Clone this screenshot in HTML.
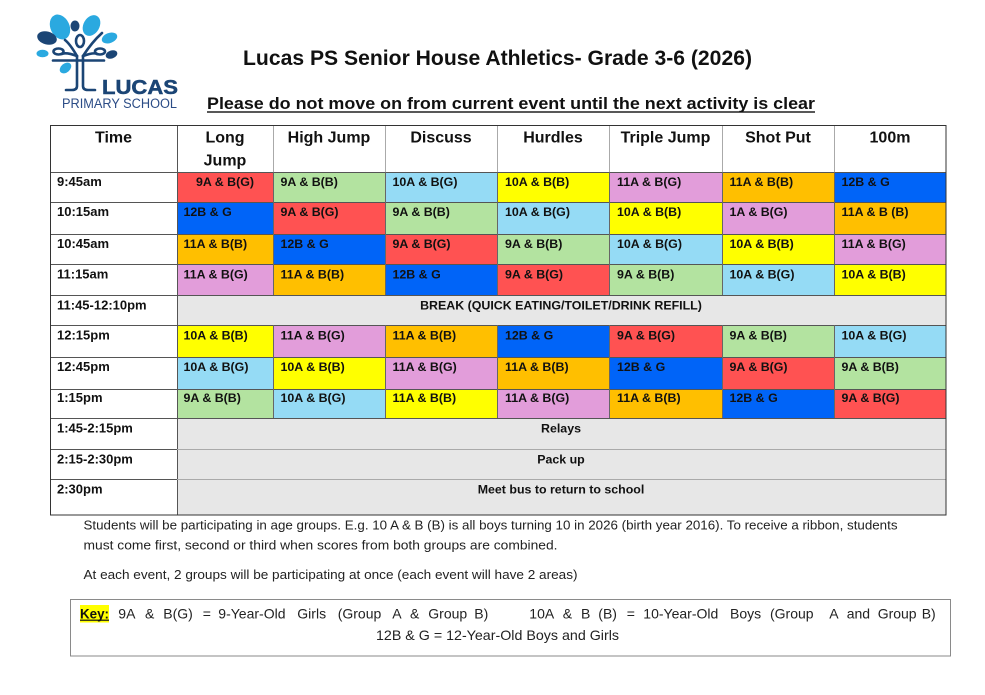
<!DOCTYPE html>
<html>
<head>
<meta charset="utf-8">
<style>
html,body{margin:0;padding:0;background:#fff;}
body{width:985px;height:695px;overflow:hidden;}
svg{display:block;font-family:"Liberation Sans",Arial,sans-serif;}
.c{font-size:12.4px;font-weight:bold;fill:#111;}
.t{font-size:13px;font-weight:bold;fill:#111;}
.h{font-size:16px;font-weight:bold;fill:#111;}
.p{font-size:13px;fill:#222;}
.k{font-size:14px;fill:#222;}
</style>
</head>
<body>
<svg width="985" height="695" viewBox="0 0 985 695" xmlns="http://www.w3.org/2000/svg">
<rect width="985" height="695" fill="#fff"/>

<!-- Logo -->
<g>
  <ellipse cx="60" cy="27" rx="9.5" ry="13" transform="rotate(-25 60 27)" fill="#2AA9E0"/>
  <ellipse cx="75" cy="26" rx="4.5" ry="5.5" fill="#1B4575"/>
  <ellipse cx="91.5" cy="25.5" rx="8" ry="11" transform="rotate(30 91.5 25.5)" fill="#2AA9E0"/>
  <ellipse cx="47" cy="38" rx="10" ry="6.5" transform="rotate(15 47 38)" fill="#1B4575"/>
  <ellipse cx="109.5" cy="38" rx="8" ry="5" transform="rotate(-20 109.5 38)" fill="#2AA9E0"/>
  <ellipse cx="42.5" cy="53.5" rx="6" ry="3.8" fill="#2AA9E0"/>
  <ellipse cx="111.5" cy="54.5" rx="6" ry="4" transform="rotate(-20 111.5 54.5)" fill="#1B4575"/>
  <ellipse cx="65.5" cy="68" rx="6.5" ry="4.5" transform="rotate(-40 65.5 68)" fill="#2AA9E0"/>
  <g fill="none" stroke="#1B4575" stroke-width="2.6" stroke-linecap="round">
    <path d="M77 56 L77 86 Q77 90 72 90 L66 90"/>
    <path d="M83 56 L83 86 Q83 90 88 90 L95 90"/>
    <path d="M53 60.5 L104 60.5"/>
    <ellipse cx="58.5" cy="51.5" rx="5" ry="3"/>
    <ellipse cx="80" cy="41" rx="4" ry="6"/>
    <ellipse cx="100" cy="51.5" rx="5" ry="3"/>
    <path d="M77 56 Q70 44 65 40"/>
    <path d="M83 56 Q92 42 102 33"/>
    <path d="M77 56 Q66 52 62 54"/>
    <path d="M83 56 Q94 52 97 54"/>
  </g>
  <text x="102" y="94" font-size="20" font-weight="bold" fill="#1B4575" stroke="#1B4575" stroke-width="0.5" textLength="76" lengthAdjust="spacingAndGlyphs">LUCAS</text>
  <text x="62" y="108" font-size="13.5" fill="#2B4C86" textLength="115" lengthAdjust="spacingAndGlyphs">PRIMARY SCHOOL</text>
</g>

<!-- Titles -->
<text x="243" y="65" font-size="21" font-weight="bold" fill="#111" textLength="509" lengthAdjust="spacingAndGlyphs">Lucas PS Senior House Athletics- Grade 3-6 (2026)</text>
<text x="207" y="109" font-size="16.5" font-weight="bold" fill="#111" textLength="608" lengthAdjust="spacingAndGlyphs">Please do not move on from current event until the next activity is clear</text>
<rect x="207" y="111.3" width="608" height="1.4" fill="#111"/>

<!-- Table backgrounds -->
<g>
  <rect x="177" y="172" width="96" height="30" fill="#FF5252"/>
  <rect x="273" y="172" width="112" height="30" fill="#B3E3A0"/>
  <rect x="385" y="172" width="112" height="30" fill="#95DBF5"/>
  <rect x="497" y="172" width="112" height="30" fill="#FFFF00"/>
  <rect x="609" y="172" width="113" height="30" fill="#E29DDA"/>
  <rect x="722" y="172" width="112" height="30" fill="#FFBF00"/>
  <rect x="834" y="172" width="112" height="30" fill="#0064F8"/>
  <rect x="177" y="202" width="96" height="32" fill="#0064F8"/>
  <rect x="273" y="202" width="112" height="32" fill="#FF5252"/>
  <rect x="385" y="202" width="112" height="32" fill="#B3E3A0"/>
  <rect x="497" y="202" width="112" height="32" fill="#95DBF5"/>
  <rect x="609" y="202" width="113" height="32" fill="#FFFF00"/>
  <rect x="722" y="202" width="112" height="32" fill="#E29DDA"/>
  <rect x="834" y="202" width="112" height="32" fill="#FFBF00"/>
  <rect x="177" y="234" width="96" height="30" fill="#FFBF00"/>
  <rect x="273" y="234" width="112" height="30" fill="#0064F8"/>
  <rect x="385" y="234" width="112" height="30" fill="#FF5252"/>
  <rect x="497" y="234" width="112" height="30" fill="#B3E3A0"/>
  <rect x="609" y="234" width="113" height="30" fill="#95DBF5"/>
  <rect x="722" y="234" width="112" height="30" fill="#FFFF00"/>
  <rect x="834" y="234" width="112" height="30" fill="#E29DDA"/>
  <rect x="177" y="264" width="96" height="31" fill="#E29DDA"/>
  <rect x="273" y="264" width="112" height="31" fill="#FFBF00"/>
  <rect x="385" y="264" width="112" height="31" fill="#0064F8"/>
  <rect x="497" y="264" width="112" height="31" fill="#FF5252"/>
  <rect x="609" y="264" width="113" height="31" fill="#B3E3A0"/>
  <rect x="722" y="264" width="112" height="31" fill="#95DBF5"/>
  <rect x="834" y="264" width="112" height="31" fill="#FFFF00"/>
  <rect x="177" y="295" width="769" height="30" fill="#E7E7E7"/>
  <rect x="177" y="325" width="96" height="32" fill="#FFFF00"/>
  <rect x="273" y="325" width="112" height="32" fill="#E29DDA"/>
  <rect x="385" y="325" width="112" height="32" fill="#FFBF00"/>
  <rect x="497" y="325" width="112" height="32" fill="#0064F8"/>
  <rect x="609" y="325" width="113" height="32" fill="#FF5252"/>
  <rect x="722" y="325" width="112" height="32" fill="#B3E3A0"/>
  <rect x="834" y="325" width="112" height="32" fill="#95DBF5"/>
  <rect x="177" y="357" width="96" height="32" fill="#95DBF5"/>
  <rect x="273" y="357" width="112" height="32" fill="#FFFF00"/>
  <rect x="385" y="357" width="112" height="32" fill="#E29DDA"/>
  <rect x="497" y="357" width="112" height="32" fill="#FFBF00"/>
  <rect x="609" y="357" width="113" height="32" fill="#0064F8"/>
  <rect x="722" y="357" width="112" height="32" fill="#FF5252"/>
  <rect x="834" y="357" width="112" height="32" fill="#B3E3A0"/>
  <rect x="177" y="389" width="96" height="29" fill="#B3E3A0"/>
  <rect x="273" y="389" width="112" height="29" fill="#95DBF5"/>
  <rect x="385" y="389" width="112" height="29" fill="#FFFF00"/>
  <rect x="497" y="389" width="112" height="29" fill="#E29DDA"/>
  <rect x="609" y="389" width="113" height="29" fill="#FFBF00"/>
  <rect x="722" y="389" width="112" height="29" fill="#0064F8"/>
  <rect x="834" y="389" width="112" height="29" fill="#FF5252"/>
  <rect x="177" y="418" width="769" height="97" fill="#E7E7E7"/>
</g>

<!-- Grid lines -->
<g stroke="#555" stroke-width="1" shape-rendering="crispEdges">
  <line x1="50" y1="172.5" x2="946" y2="172.5"/>
  <line x1="50" y1="202.5" x2="946" y2="202.5"/>
  <line x1="50" y1="234.5" x2="946" y2="234.5"/>
  <line x1="50" y1="264.5" x2="946" y2="264.5"/>
  <line x1="50" y1="295.5" x2="946" y2="295.5"/>
  <line x1="50" y1="325.5" x2="946" y2="325.5"/>
  <line x1="50" y1="357.5" x2="946" y2="357.5"/>
  <line x1="50" y1="389.5" x2="946" y2="389.5"/>
  <line x1="50" y1="418.5" x2="946" y2="418.5"/>
  <line x1="50" y1="449.5" x2="177" y2="449.5"/>
  <line x1="50" y1="479.5" x2="177" y2="479.5"/>
  <line x1="177.5" y1="125" x2="177.5" y2="515"/>
</g>
<g stroke="#aaa" stroke-width="1" shape-rendering="crispEdges">
  <line x1="177" y1="449.5" x2="946" y2="449.5"/>
  <line x1="177" y1="479.5" x2="946" y2="479.5"/>
  <line x1="273.5" y1="125" x2="273.5" y2="172"/>
  <line x1="385.5" y1="125" x2="385.5" y2="172"/>
  <line x1="497.5" y1="125" x2="497.5" y2="172"/>
  <line x1="609.5" y1="125" x2="609.5" y2="172"/>
  <line x1="722.5" y1="125" x2="722.5" y2="172"/>
  <line x1="834.5" y1="125" x2="834.5" y2="172"/>
</g>
<g stroke="#666" stroke-width="1" shape-rendering="crispEdges">
  <line x1="273.5" y1="172" x2="273.5" y2="295"/>
  <line x1="385.5" y1="172" x2="385.5" y2="295"/>
  <line x1="497.5" y1="172" x2="497.5" y2="295"/>
  <line x1="609.5" y1="172" x2="609.5" y2="295"/>
  <line x1="722.5" y1="172" x2="722.5" y2="295"/>
  <line x1="834.5" y1="172" x2="834.5" y2="295"/>
  <line x1="273.5" y1="325" x2="273.5" y2="418"/>
  <line x1="385.5" y1="325" x2="385.5" y2="418"/>
  <line x1="497.5" y1="325" x2="497.5" y2="418"/>
  <line x1="609.5" y1="325" x2="609.5" y2="418"/>
  <line x1="722.5" y1="325" x2="722.5" y2="418"/>
  <line x1="834.5" y1="325" x2="834.5" y2="418"/>
</g>
<rect x="50.5" y="125.5" width="895.5" height="389.5" fill="none" stroke="#333" stroke-width="1" shape-rendering="crispEdges"/>

<!-- Header text -->
<g text-anchor="middle">
  <text class="h" x="113.5" y="142.5">Time</text>
  <text class="h" x="225" y="142.5">Long</text>
  <text class="h" x="225" y="165.5">Jump</text>
  <text class="h" x="329" y="142.5">High Jump</text>
  <text class="h" x="441" y="142.5">Discuss</text>
  <text class="h" x="553" y="142.5">Hurdles</text>
  <text class="h" x="665.5" y="142.5">Triple Jump</text>
  <text class="h" x="778" y="142.5">Shot Put</text>
  <text class="h" x="890" y="142.5">100m</text>
</g>

<!-- Time column -->
<g>
  <text class="t" x="57" y="186">9:45am</text>
  <text class="t" x="57" y="216">10:15am</text>
  <text class="t" x="57" y="248">10:45am</text>
  <text class="t" x="57" y="278.5">11:15am</text>
  <text class="t" x="57" y="309.5">11:45-12:10pm</text>
  <text class="t" x="57" y="339.5">12:15pm</text>
  <text class="t" x="57" y="371">12:45pm</text>
  <text class="t" x="57" y="402">1:15pm</text>
  <text class="t" x="57" y="432.5">1:45-2:15pm</text>
  <text class="t" x="57" y="463.5">2:15-2:30pm</text>
  <text class="t" x="57" y="493.5">2:30pm</text>
</g>

<!-- Cells -->
<g>
  <text class="c" x="225" y="186" text-anchor="middle">9A &amp; B(G)</text>
  <text class="c" x="280.5" y="186">9A &amp; B(B)</text>
  <text class="c" x="392.5" y="186">10A &amp; B(G)</text>
  <text class="c" x="505" y="186">10A &amp; B(B)</text>
  <text class="c" x="617" y="186">11A &amp; B(G)</text>
  <text class="c" x="729.5" y="186">11A &amp; B(B)</text>
  <text class="c" x="841.5" y="186">12B &amp; G</text>
  <text class="c" x="183.5" y="216">12B &amp; G</text>
  <text class="c" x="280.5" y="216">9A &amp; B(G)</text>
  <text class="c" x="392.5" y="216">9A &amp; B(B)</text>
  <text class="c" x="505" y="216">10A &amp; B(G)</text>
  <text class="c" x="617" y="216">10A &amp; B(B)</text>
  <text class="c" x="729.5" y="216">1A &amp; B(G)</text>
  <text class="c" x="841.5" y="216">11A &amp; B (B)</text>
  <text class="c" x="183.5" y="248">11A &amp; B(B)</text>
  <text class="c" x="280.5" y="248">12B &amp; G</text>
  <text class="c" x="392.5" y="248">9A &amp; B(G)</text>
  <text class="c" x="505" y="248">9A &amp; B(B)</text>
  <text class="c" x="617" y="248">10A &amp; B(G)</text>
  <text class="c" x="729.5" y="248">10A &amp; B(B)</text>
  <text class="c" x="841.5" y="248">11A &amp; B(G)</text>
  <text class="c" x="183.5" y="278.5">11A &amp; B(G)</text>
  <text class="c" x="280.5" y="278.5">11A &amp; B(B)</text>
  <text class="c" x="392.5" y="278.5">12B &amp; G</text>
  <text class="c" x="505" y="278.5">9A &amp; B(G)</text>
  <text class="c" x="617" y="278.5">9A &amp; B(B)</text>
  <text class="c" x="729.5" y="278.5">10A &amp; B(G)</text>
  <text class="c" x="841.5" y="278.5">10A &amp; B(B)</text>
  <text class="c" x="561" y="309.5" text-anchor="middle">BREAK (QUICK EATING/TOILET/DRINK REFILL)</text>
  <text class="c" x="183.5" y="339.5">10A &amp; B(B)</text>
  <text class="c" x="280.5" y="339.5">11A &amp; B(G)</text>
  <text class="c" x="392.5" y="339.5">11A &amp; B(B)</text>
  <text class="c" x="505" y="339.5">12B &amp; G</text>
  <text class="c" x="617" y="339.5">9A &amp; B(G)</text>
  <text class="c" x="729.5" y="339.5">9A &amp; B(B)</text>
  <text class="c" x="841.5" y="339.5">10A &amp; B(G)</text>
  <text class="c" x="183.5" y="371">10A &amp; B(G)</text>
  <text class="c" x="280.5" y="371">10A &amp; B(B)</text>
  <text class="c" x="392.5" y="371">11A &amp; B(G)</text>
  <text class="c" x="505" y="371">11A &amp; B(B)</text>
  <text class="c" x="617" y="371">12B &amp; G</text>
  <text class="c" x="729.5" y="371">9A &amp; B(G)</text>
  <text class="c" x="841.5" y="371">9A &amp; B(B)</text>
  <text class="c" x="183.5" y="402">9A &amp; B(B)</text>
  <text class="c" x="280.5" y="402">10A &amp; B(G)</text>
  <text class="c" x="392.5" y="402">11A &amp; B(B)</text>
  <text class="c" x="505" y="402">11A &amp; B(G)</text>
  <text class="c" x="617" y="402">11A &amp; B(B)</text>
  <text class="c" x="729.5" y="402">12B &amp; G</text>
  <text class="c" x="841.5" y="402">9A &amp; B(G)</text>
  <text class="c" x="561" y="432.5" text-anchor="middle">Relays</text>
  <text class="c" x="561" y="463.5" text-anchor="middle">Pack up</text>
  <text class="c" x="561" y="493.5" text-anchor="middle">Meet bus to return to school</text>
</g>

<!-- Notes -->
<text class="p" x="83.5" y="529.5" textLength="814" lengthAdjust="spacingAndGlyphs">Students will be participating in age groups. E.g. 10 A &amp; B (B) is all boys turning 10 in 2026 (birth year 2016). To receive a ribbon, students</text>
<text class="p" x="83.5" y="549.5" textLength="474" lengthAdjust="spacingAndGlyphs">must come first, second or third when scores from both groups are combined.</text>
<text class="p" x="83.5" y="579" textLength="494" lengthAdjust="spacingAndGlyphs">At each event, 2 groups will be participating at once (each event will have 2 areas)</text>

<!-- Key box -->
<rect x="70.5" y="599.5" width="880" height="56.5" fill="none" stroke="#8a8a8a" stroke-width="1" shape-rendering="crispEdges"/>
<rect x="80" y="605" width="29" height="17.5" fill="#FFFF00"/>
<text x="80" y="618.5" font-size="14" font-weight="bold" fill="#111" textLength="29" lengthAdjust="spacingAndGlyphs">Key:</text>
<rect x="80" y="619.6" width="29" height="1.2" fill="#111"/>
<g>
  <text class="k" x="118.3" y="618.5">9A</text>
  <text class="k" x="145" y="618.5">&amp;</text>
  <text class="k" x="163.3" y="618.5">B(G)</text>
  <text class="k" x="202.7" y="618.5">=</text>
  <text class="k" x="218.3" y="618.5">9-Year-Old</text>
  <text class="k" x="297.3" y="618.5">Girls</text>
  <text class="k" x="337.7" y="618.5">(Group</text>
  <text class="k" x="392.3" y="618.5">A</text>
  <text class="k" x="410" y="618.5">&amp;</text>
  <text class="k" x="428.3" y="618.5">Group</text>
  <text class="k" x="474.3" y="618.5">B)</text>
  <text class="k" x="529.3" y="618.5">10A</text>
  <text class="k" x="562.7" y="618.5">&amp;</text>
  <text class="k" x="581" y="618.5">B</text>
  <text class="k" x="598.3" y="618.5">(B)</text>
  <text class="k" x="626.7" y="618.5">=</text>
  <text class="k" x="643.3" y="618.5">10-Year-Old</text>
  <text class="k" x="730" y="618.5">Boys</text>
  <text class="k" x="770" y="618.5">(Group</text>
  <text class="k" x="829.3" y="618.5">A</text>
  <text class="k" x="846.7" y="618.5">and</text>
  <text class="k" x="877.7" y="618.5">Group</text>
  <text class="k" x="921.7" y="618.5">B)</text>
</g>
<text class="k" x="376" y="640" textLength="243" lengthAdjust="spacingAndGlyphs">12B &amp; G = 12-Year-Old Boys and Girls</text>
</svg>
</body>
</html>
